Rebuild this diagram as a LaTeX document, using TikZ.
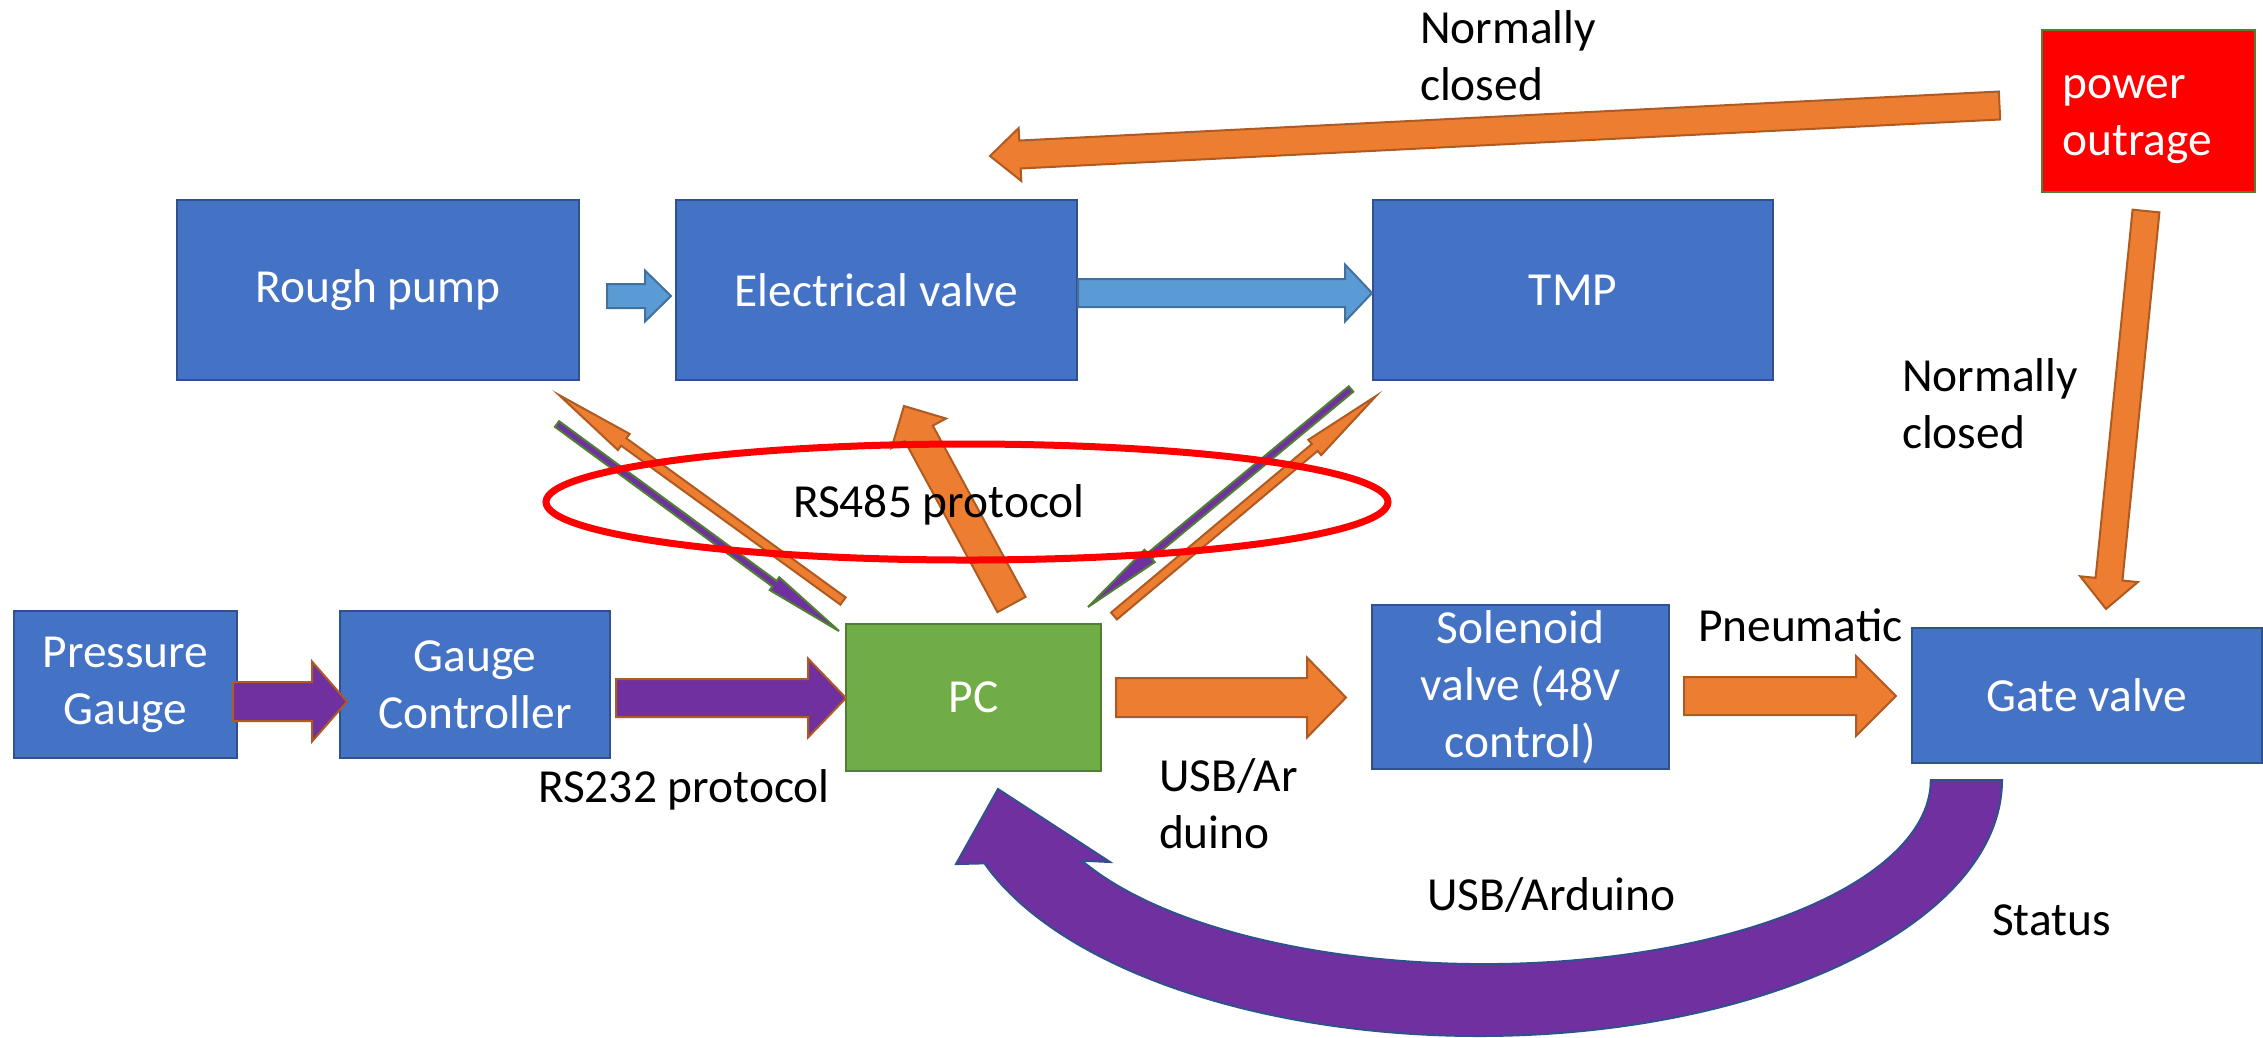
\documentclass[tikz,border=0pt]{standalone}
\usepackage{fontspec}
\setmainfont{Carlito}
\usetikzlibrary{calc}

\definecolor{boxblue}{HTML}{4472C4}
\definecolor{boxedge}{HTML}{2F528F}
\definecolor{pipeblue}{HTML}{5B9BD5}
\definecolor{pipeedge}{HTML}{41719C}
\definecolor{sigorange}{HTML}{ED7D31}
\definecolor{orangeedge}{HTML}{AE5A21}
\definecolor{sigpurple}{HTML}{7030A0}
\definecolor{pcgreen}{HTML}{70AD47}
\definecolor{greenedge}{HTML}{507E32}
\definecolor{alarmred}{HTML}{FF0000}

% block arrow: style, tail, tip, half shaft, half head, head length
\newcommand{\blockarrow}[6][]{%
  \coordinate (ba-tail) at #2;
  \coordinate (ba-tip) at #3;
  \coordinate (ba-neck) at ($(ba-tip)!#6!(ba-tail)$);
  \draw[#1] ($(ba-tail)!#4!-90:(ba-tip)$) -- ($(ba-neck)!#4!-90:(ba-tip)$)
    -- ($(ba-neck)!#5!-90:(ba-tip)$) -- (ba-tip) -- ($(ba-neck)!#5!90:(ba-tip)$)
    -- ($(ba-neck)!#4!90:(ba-tip)$) -- ($(ba-tail)!#4!90:(ba-tip)$) -- cycle;}

\begin{document}
\begin{tikzpicture}[x=0.1mm, y=-0.1mm, line width=0.2mm,
    font=\fontsize{13.5}{16.2}\selectfont,
    box/.style={draw=boxedge, fill=boxblue, text=white, align=center, inner sep=0pt},
    pcbox/.style={box, draw=greenedge, fill=pcgreen},
    alarmbox/.style={box, draw=greenedge, fill=alarmred, align=left},
    pipearrow/.style={draw=pipeedge, fill=pipeblue},
    orangearrow/.style={draw=orangeedge, fill=sigorange},
    purplearrow/.style={draw=orangeedge, fill=sigpurple},
    thinpurple/.style={draw=greenedge, fill=sigpurple},
    curvearrow/.style={draw=boxedge, fill=sigpurple},
    ring/.style={draw=alarmred, line width=0.7mm},
    note/.style={anchor=base west, align=left, inner sep=0pt}]
  \useasboundingbox (0,0) rectangle (2263,1037);

  \node[box, minimum width=40.2mm, minimum height=18mm] (rough) at (378,290) {Rough pump};
  \node[box, minimum width=40.1mm, minimum height=18mm] (evalve) at (876.5,290) {Electrical valve};
  \node[box, minimum width=40mm, minimum height=18mm] (tmp) at (1573,290) {TMP};
  \node[alarmbox, minimum width=21.3mm, minimum height=16.2mm, text width=17.1mm] (power) at (2148,111) {\strut power\\outrage};
  \node[box, minimum width=22.3mm, minimum height=14.7mm] (pgauge) at (125.5,684.5) {Pressure\\Gauge};
  \node[box, minimum width=27mm, minimum height=14.7mm] (gctrl) at (475,684.5) {Gauge\\Controller};
  \node[pcbox, minimum width=25.5mm, minimum height=14.7mm] (pc) at (973.5,697.5) {PC};
  \node[box, minimum width=29.7mm, minimum height=16.4mm] (sol) at (1520.5,687) {Solenoid\\valve (48V\\control)};
  \node[box, minimum width=35mm, minimum height=13.5mm] (gate) at (2087,695.5) {Gate valve};

  \blockarrow[pipearrow]{($(rough.east)+(27,6)$)}{($(evalve.west)+(-4,6)$)}{1.2mm}{2.55mm}{2.6mm}
  \blockarrow[pipearrow]{($(evalve.east)+(0,3)$)}{($(tmp.west)+(0,3)$)}{1.4mm}{2.85mm}{2.7mm}
  \blockarrow[purplearrow]{($(pgauge.east)+(-5,17)$)}{($(gctrl.west)+(8,17)$)}{1.95mm}{4mm}{3.5mm}
  \blockarrow[purplearrow]{($(gctrl.east)+(5,13.5)$)}{($(pc.west)+(1,0.5)$)}{1.9mm}{3.95mm}{3.8mm}
  \blockarrow[orangearrow]{($(pc.east)+(14,0)$)}{($(sol.west)+(-25,10.5)$)}{1.95mm}{4mm}{3.9mm}
  \blockarrow[orangearrow]{($(sol.east)+(14,9)$)}{($(gate.west)+(-15,0.5)$)}{1.9mm}{4mm}{4mm}
  \blockarrow[orangearrow]{($(power.west)+(-41,-5.5)$)}{($(evalve.north)+(113.5,-43)$)}{1.4mm}{2.65mm}{3mm}
  \blockarrow[orangearrow]{($(power.south)+(-2,18)$)}{($(gate.north)+(19,-18)$)}{1.35mm}{2.9mm}{3mm}
  \blockarrow[orangearrow]{($(pc.north)+(38,-18.5)$)}{($(evalve.south)+(27.5,25)$)}{1.6mm}{3.1mm}{3.1mm}
  \blockarrow[orangearrow]{($(pc.north west)+(-2,-22)$)}{($(rough.south east)+(-21,14)$)}{0.45mm}{1mm}{8mm}
  \blockarrow[thinpurple]{($(rough.south east)+(-23,43)$)}{($(pc.north west)+(-6,8)$)}{0.35mm}{0.8mm}{8mm}
  \blockarrow[thinpurple]{($(tmp.south west)+(-21,8)$)}{($(pc.north east)+(-14,-16)$)}{0.35mm}{0.8mm}{8mm}
  \blockarrow[orangearrow]{($(pc.north east)+(12,-7)$)}{($(tmp.south west)+(4,15)$)}{0.45mm}{1mm}{8mm}

  \draw[curvearrow] ($(gate.south west)+(91,16)$)
    arc[start angle=0, end angle=161, x radius=523, y radius=256]
    -- ++(-28.5,0.7) -- ($(pc.south)+(24.5,17)$) -- ++(112,73) -- ++(-28,-1.3)
    arc[start angle=154, end angle=0, x radius=447, y radius=184] -- cycle;

  \draw[ring] (967,502) ellipse[x radius=421, y radius=58];

  \node[note] (nctop) at (1419,100) {Normally\\closed};
  \node[note] (ncside) at (1901,448) {Normally\\closed};
  \node[note] (rs485) at (792,517) {RS485 protocol};
  \node[note] (rs232) at (537,802) {RS232 protocol};
  \node[note] (usbar) at (1158,848) {USB/Ar\\duino};
  \node[note] (pneu) at (1697,641) {Pneumatic};
  \node[note] (usbard) at (1426,910) {USB/Arduino};
  \node[note] (status) at (1991,935) {Status};
\end{tikzpicture}
\end{document}
